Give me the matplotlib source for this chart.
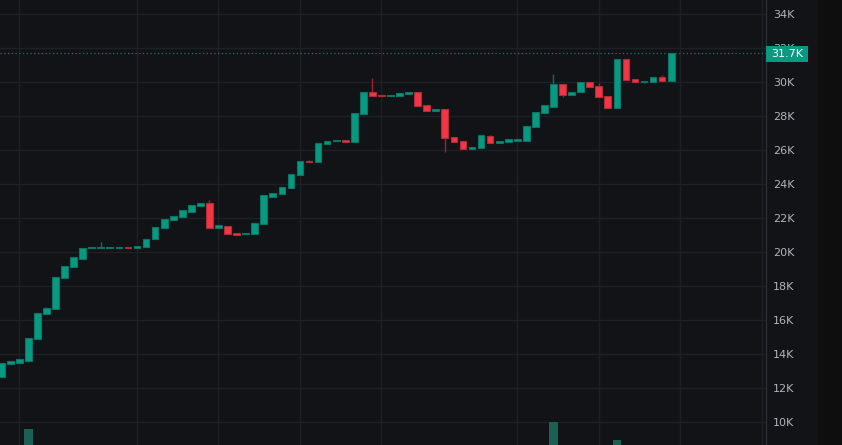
import matplotlib
matplotlib.use("Agg")
import matplotlib.pyplot as plt
from matplotlib.patches import Rectangle
import numpy as np

# ---- data (prices in thousands) ----
opens = [12.65, 13.41, 13.51, 13.62, 14.90, 16.37, 16.66, 18.47, 19.14, 19.62,
         20.25, 20.25, 20.26, 20.26, 20.33, 20.25, 20.29, 20.76, 21.45, 21.90,
         22.06, 22.39, 22.72, 22.90, 21.45, 21.57, 21.14, 21.06, 21.08, 21.66,
         23.27, 23.43, 23.78, 24.55, 25.39, 25.31, 26.37, 26.53, 26.60, 26.47,
         28.14, 29.41, 29.25, 29.18, 29.18, 29.33, 29.41, 28.68, 28.31, 28.41,
         26.80, 26.55, 26.08, 26.14, 26.86, 26.41, 26.47, 26.57, 26.57, 27.35,
         28.18, 28.56, 29.90, 29.24, 29.41, 30.02, 29.80, 29.18, 28.51, 31.39,
         30.18, 30.00, 30.00, 30.31, 30.06]
closes = [13.47, 13.59, 13.71, 14.96, 16.45, 16.74, 18.55, 19.19, 19.71, 20.25,
          20.33, 20.33, 20.32, 20.32, 20.26, 20.39, 20.78, 21.51, 21.96, 22.12,
          22.47, 22.78, 22.90, 21.45, 21.59, 21.08, 21.02, 21.12, 21.72, 23.35,
          23.49, 23.82, 24.61, 25.37, 25.33, 26.43, 26.55, 26.60, 26.51, 28.19,
          29.41, 29.19, 29.18, 29.25, 29.35, 29.43, 28.60, 28.33, 28.43, 26.74,
          26.47, 26.08, 26.19, 26.88, 26.41, 26.55, 26.67, 26.67, 27.43, 28.25,
          28.65, 29.92, 29.24, 29.45, 30.02, 29.74, 29.14, 28.51, 31.39, 30.12,
          30.00, 30.06, 30.33, 30.06, 31.70]
highs = [13.47, 13.59, 13.71, 14.96, 16.45, 16.80, 18.55, 19.19, 19.71, 20.25,
         20.33, 20.59, 20.32, 20.32, 20.33, 20.39, 20.78, 21.51, 21.96, 22.12,
         22.47, 22.78, 22.90, 23.08, 21.59, 21.57, 21.14, 21.12, 21.72, 23.35,
         23.49, 23.82, 24.61, 25.37, 25.45, 26.43, 26.55, 26.60, 26.60, 28.19,
         29.41, 30.25, 29.25, 29.25, 29.35, 29.43, 29.41, 28.68, 28.43, 28.41,
         26.80, 26.55, 26.19, 26.88, 26.92, 26.55, 26.67, 26.67, 27.43, 28.25,
         28.65, 30.51, 29.90, 29.45, 30.02, 30.02, 29.94, 29.18, 31.39, 31.39,
         30.18, 30.06, 30.33, 30.43, 31.70]
lows = [12.65, 13.41, 13.51, 13.62, 14.90, 16.37, 16.66, 18.47, 19.14, 19.62,
        20.25, 20.25, 20.26, 20.26, 20.26, 20.25, 20.29, 20.76, 21.45, 21.90,
        22.06, 22.39, 22.72, 21.45, 21.45, 21.08, 21.02, 21.06, 21.08, 21.66,
        23.27, 23.43, 23.78, 24.55, 25.33, 25.31, 26.37, 26.53, 26.51, 26.47,
        28.14, 29.19, 29.18, 29.18, 29.18, 29.33, 28.60, 28.33, 28.31, 25.92,
        26.47, 26.08, 26.08, 26.14, 26.41, 26.41, 26.47, 26.57, 26.57, 27.35,
        28.18, 28.56, 29.12, 29.24, 29.41, 29.74, 29.14, 28.51, 28.51, 30.12,
        30.00, 29.94, 30.00, 30.06, 30.06]
volumes = [42, 38, 35, 88, 55, 30, 52, 40, 36, 34,
           22, 25, 20, 18, 21, 24, 33, 41, 35, 28,
           32, 30, 26, 50, 27, 34, 25, 20, 31, 47,
           29, 30, 38, 40, 22, 45, 27, 21, 20, 49,
           52, 46, 24, 22, 25, 23, 39, 33, 25, 56,
           37, 35, 24, 36, 30, 22, 26, 21, 34, 38,
           32, 100, 44, 28, 36, 30, 35, 41, 68, 48,
           26, 22, 27, 25, 47]
price_ticks = [10, 12, 14, 16, 18, 20, 22, 24, 26, 28, 30, 32, 34]
time_grid = [2, 15, 24, 33, 42, 57, 66, 75, 84]
last_price = 31.7
last_label = "31.7K"

# ---- style ----
BG = "#121317"
GRID = "#1e2025"
UP = "#089981"
DOWN = "#f23645"
UP_EDGE = "#0a7565"
DOWN_EDGE = "#b02a38"
UP_WICK = "#0b6b5d"
DOWN_WICK = "#9a2330"
TXT = "#b2b5be"

W, H = 842, 445
fig = plt.figure(figsize=(W / 100, H / 100), dpi=100, facecolor=BG)
ax = fig.add_axes([0, 0, 766 / W, 1])
ax.set_facecolor(BG)

x = np.arange(len(opens))
o = np.array(opens); c = np.array(closes)
hi = np.array(highs); lo = np.array(lows)
up = c >= o

# volume overlay
axv = ax.twinx()
axv.set_ylim(60, 844)
vcol = np.where(up, "#1b5f55", "#6e2a30")
axv.bar(x, volumes, width=0.95, color=vcol, linewidth=0, zorder=1)
axv.set_yticks([])
for s in axv.spines.values():
    s.set_visible(False)

# wicks
ax.vlines(x, lo, hi, colors=np.where(up, UP_WICK, DOWN_WICK), linewidth=1.0, zorder=3)
# bodies
bottoms = np.minimum(o, c)
heights = np.maximum(np.abs(c - o), 0.03)
ax.bar(x, heights, bottom=bottoms, width=0.74,
       color=np.where(up, UP, DOWN), edgecolor=np.where(up, UP_EDGE, DOWN_EDGE),
       linewidth=0.8, zorder=4)

# last price dotted line
ax.axhline(last_price, color="#0b7d6b", linewidth=0.9, linestyle=(0, (1.0, 2.0)), zorder=2)

ax.set_xlim(-0.131, 84.47)
ax.set_ylim(8.66, 34.84)
ax.set_yticks(price_ticks)
ax.set_yticklabels([f"{t}K" for t in price_ticks])
ax.set_xticks(time_grid)
ax.set_xticklabels([])
ax.yaxis.tick_right()
ax.tick_params(axis="y", length=0, pad=5, labelsize=8, labelcolor=TXT)
ax.tick_params(axis="x", length=0)
ax.grid(True, color=GRID, linewidth=1.0)
ax.set_axisbelow(True)
for name, s in ax.spines.items():
    s.set_visible(name == "right")
ax.spines["right"].set_color("#2a2d34")
ax.spines["right"].set_linewidth(1.0)

# right dark strip
fig.patches.append(Rectangle((818 / W, 0), 24 / W, 1, transform=fig.transFigure,
                             facecolor="#0e0e0f", edgecolor="none", zorder=1))
# last price label box
fig.patches.append(Rectangle((766 / W, 1 - 61.7 / H), 42.3 / W, 15.7 / H,
                             transform=fig.transFigure, facecolor=UP,
                             edgecolor="none", zorder=2))
fig.text(787.5 / W, 1 - 53.6 / H, last_label, color="white", fontsize=8,
         ha="center", va="center", zorder=3)

fig.savefig("out.png", dpi=100, facecolor=BG)
